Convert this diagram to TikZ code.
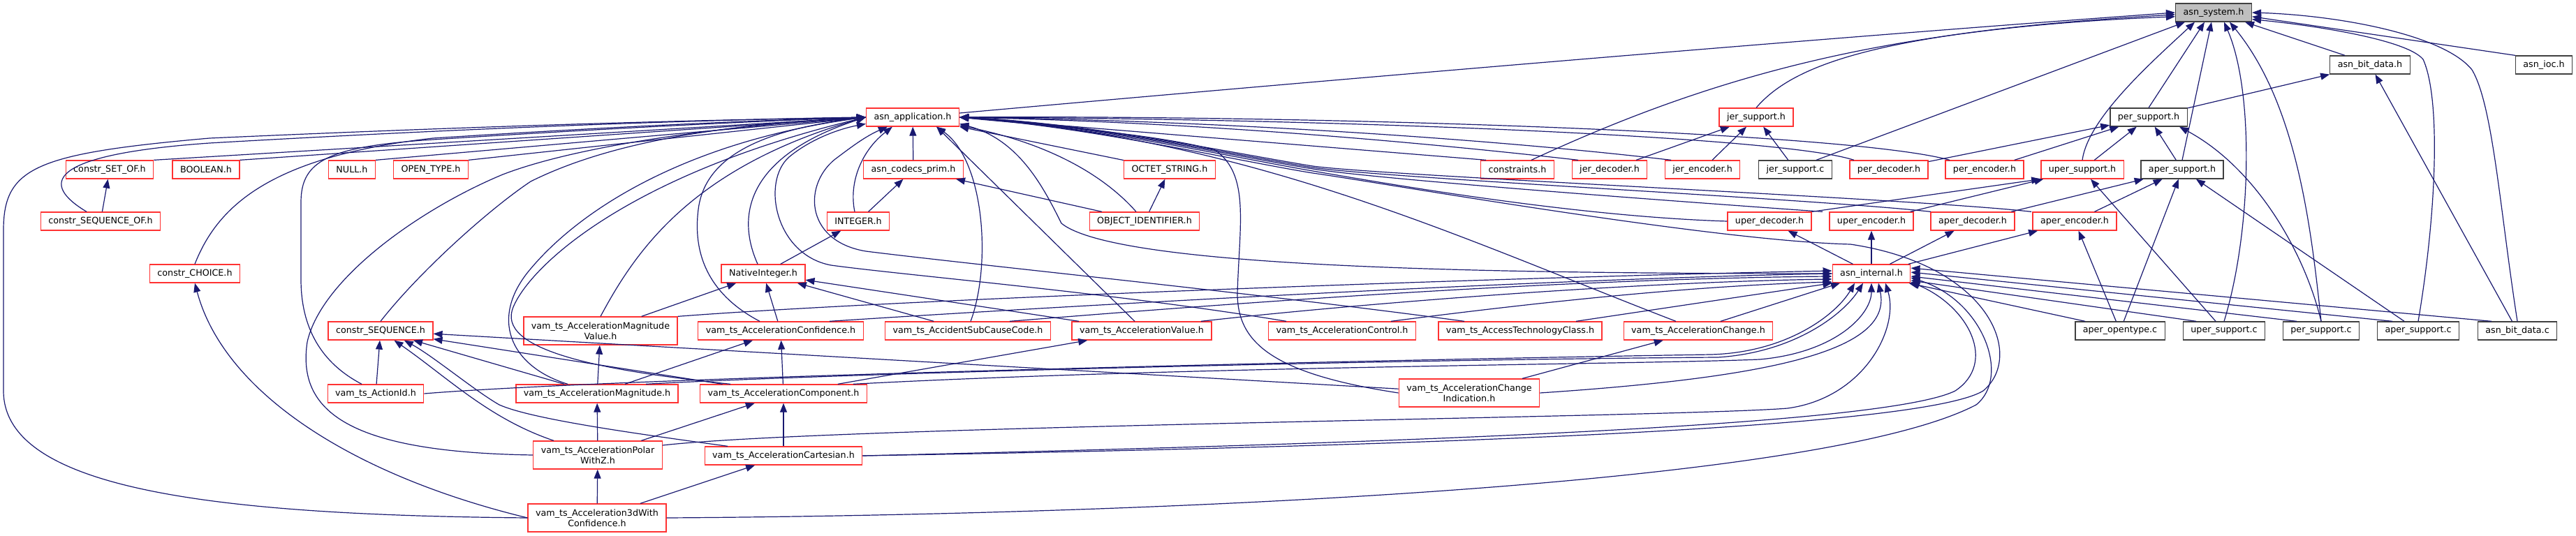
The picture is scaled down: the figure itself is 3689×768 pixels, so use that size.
\documentclass[tikz,border=0pt]{standalone}
\usepackage{fontspec}
\setmainfont{DejaVu Sans}
\usetikzlibrary{arrows.meta}
\definecolor{edgeblue}{RGB}{25,25,112}
\definecolor{boxred}{RGB}{255,50,50}
\definecolor{boxdark}{RGB}{64,64,64}
\definecolor{boxgray}{RGB}{191,191,191}
\tikzset{
  box-base/.style={
    rectangle,
    draw,
    fill=white,
    line width=1.3bp,
    inner xsep=11bp,
    inner ysep=0bp,
    minimum height=26bp,
    align=center,
    font=\fontsize{12.7bp}{15bp}\selectfont
  },
  box-red/.style={box-base, draw=boxred},
  box-black/.style={box-base, draw=boxdark},
  box-root/.style={box-base, draw=boxdark, fill=boxgray},
  box-tall/.style={box-red, minimum height=40bp},
  dep-line/.style={
    draw=edgeblue,
    line width=1.2bp,
    -{Triangle[length=13bp,width=10bp]}
  }
}

\begin{document}
\begin{tikzpicture}[x=1bp, y=-1bp]
  \useasboundingbox (0,0) rectangle (3689,768);
  \node[box-root] (sys) at (3170,18) {asn\_system.h};
  \node[box-black] (bitdh) at (3394,93) {asn\_bit\_data.h};
  \node[box-black] (ioc) at (3643,93) {asn\_ioc.h};
  \node[box-red] (app) at (1307,168) {asn\_application.h};
  \node[box-red] (jersh) at (2515,168) {jer\_support.h};
  \node[box-black] (persh) at (3077,168) {per\_support.h};
  \node[box-red] (setof) at (157,243) {constr\_SET\_OF.h};
  \node[box-red] (bool) at (295,243) {BOOLEAN.h};
  \node[box-red] (null) at (504,243) {NULL.h};
  \node[box-red] (opentype) at (617,243) {OPEN\_TYPE.h};
  \node[box-red] (prim) at (1308,243) {asn\_codecs\_prim.h};
  \node[box-red] (octet) at (1675,243) {OCTET\_STRING.h};
  \node[box-red] (cons) at (2173,243) {constraints.h};
  \node[box-red] (jerdec) at (2305,243) {jer\_decoder.h};
  \node[box-red] (jerenc) at (2438,243) {jer\_encoder.h};
  \node[box-black] (jersc) at (2571,243) {jer\_support.c};
  \node[box-red] (perdec) at (2705,243) {per\_decoder.h};
  \node[box-red] (perenc) at (2842,243) {per\_encoder.h};
  \node[box-red] (upersh) at (2982,243) {uper\_support.h};
  \node[box-black] (apersh) at (3125,243) {aper\_support.h};
  \node[box-red] (seqof) at (144,317) {constr\_SEQUENCE\_OF.h};
  \node[box-red] (integer) at (1229,317) {INTEGER.h};
  \node[box-red] (oid) at (1639,317) {OBJECT\_IDENTIFIER.h};
  \node[box-red] (uperdec) at (2534,317) {uper\_decoder.h};
  \node[box-red] (uperenc) at (2680,317) {uper\_encoder.h};
  \node[box-red] (aperdec) at (2825,317) {aper\_decoder.h};
  \node[box-red] (aperenc) at (2971,317) {aper\_encoder.h};
  \node[box-red] (choice) at (279,392) {constr\_CHOICE.h};
  \node[box-red] (native) at (1093,392) {NativeInteger.h};
  \node[box-red] (internal) at (2680,392) {asn\_internal.h};
  \node[box-red] (seq) at (545,474) {constr\_SEQUENCE.h};
  \node[box-tall] (magval) at (860,474) {vam\_ts\_AccelerationMagnitude\\Value.h};
  \node[box-red] (conf) at (1118,474) {vam\_ts\_AccelerationConfidence.h};
  \node[box-red] (subcause) at (1386,474) {vam\_ts\_AccidentSubCauseCode.h};
  \node[box-red] (accval) at (1635,474) {vam\_ts\_AccelerationValue.h};
  \node[box-red] (control) at (1922,474) {vam\_ts\_AccelerationControl.h};
  \node[box-red] (access) at (2177,474) {vam\_ts\_AccessTechnologyClass.h};
  \node[box-red] (change) at (2432,474) {vam\_ts\_AccelerationChange.h};
  \node[box-black] (opentypec) at (3036,474) {aper\_opentype.c};
  \node[box-black] (upersc) at (3185,474) {uper\_support.c};
  \node[box-black] (persc) at (3324,474) {per\_support.c};
  \node[box-black] (apersc) at (3463,474) {aper\_support.c};
  \node[box-black] (bitdc) at (3605,474) {asn\_bit\_data.c};
  \node[box-red] (actionid) at (538,564) {vam\_ts\_ActionId.h};
  \node[box-red] (mag) at (855,564) {vam\_ts\_AccelerationMagnitude.h};
  \node[box-red] (comp) at (1122,564) {vam\_ts\_AccelerationComponent.h};
  \node[box-tall] (changeind) at (2104,563) {vam\_ts\_AccelerationChange\\Indication.h};
  \node[box-tall] (polar) at (856,652) {vam\_ts\_AccelerationPolar\\WithZ.h};
  \node[box-red] (cart) at (1122,653) {vam\_ts\_AccelerationCartesian.h};
  \node[box-tall] (acc3d) at (855,742) {vam\_ts\_Acceleration3dWith\\Confidence.h};

  \foreach \a/\b in {persh/bitdh, bitdc/bitdh, perdec/persh, perenc/persh, upersh/persh,
      apersh/persh, jerdec/jersh, jerenc/jersh, jersc/jersh, uperenc/upersh, upersc/upersh,
      aperdec/apersh, aperenc/apersh, opentypec/apersh, apersc/apersh, opentypec/aperenc,
      internal/uperdec, internal/uperenc, internal/aperdec, internal/aperenc,
      integer/prim, oid/prim, oid/octet, native/integer, magval/native, conf/native,
      subcause/native, accval/native, seqof/setof, actionid/seq, mag/seq, comp/seq,
      changeind/seq, mag/magval, mag/conf, comp/conf, comp/accval, polar/mag, polar/comp,
      cart/comp, acc3d/polar, acc3d/cart, changeind/change, prim/app, octet/app}
    \draw[dep-line] (\a) -- (\b);
  \draw[dep-line] (uperdec.north east) -- (upersh.south west);

  \draw[dep-line] ([xshift=-36bp]bitdh.north) -- ([xshift=45bp]sys.south);
  \draw[dep-line] (ioc.north west) -- (sys.-6);
  \draw[dep-line] (persh.north) -- ([xshift=-13bp]sys.south);
  \draw[dep-line] (apersh.north) -- ([xshift=-3bp]sys.south);
  \draw[dep-line] ([xshift=30bp]jersc.north) -- ([xshift=-41bp]sys.south);
  \draw[dep-line] (upersh.north) .. controls (2990,170) and (3080,90) .. ([xshift=-27bp]sys.south);
  \draw[dep-line] (upersc.north) .. controls (3225,330) and (3228,130) .. ([xshift=15bp]sys.south);
  \draw[dep-line] (persc.north) .. controls (3310,330) and (3290,150) .. ([xshift=23bp]sys.south);
  \draw[dep-line] (apersc.north) .. controls (3490,300) and (3495,140) .. (3470,85)
    .. controls (3445,55) and (3300,35) .. (sys.-10);
  \draw[dep-line] (bitdc.north) .. controls (3580,300) and (3570,150) .. (3540,100)
    .. controls (3500,50) and (3350,22) .. (sys.0);
  \draw[dep-line] ([yshift=6bp]app.east) .. controls (1900,115) and (2600,55) .. (sys.180);
  \draw[dep-line] (jersh.north) .. controls (2570,90) and (2700,45) .. (sys.183);
  \draw[dep-line] ([xshift=20bp]cons.north) .. controls (2450,110) and (2700,40) .. (sys.186);
  \draw[dep-line] (persc.north) .. controls (3300,360) and (3230,240) .. ([xshift=44bp]persh.south);

  \draw[dep-line] (setof.north east) -- (app.west);
  \draw[dep-line] (bool.north east) -- (app.west);
  \draw[dep-line] (null.north east) -- (app.west);
  \draw[dep-line] (opentype.north east) -- (app.west);
  \draw[dep-line] ([xshift=-20bp]seqof.north) .. controls (60,265) and (60,222) .. (300,205)
    .. controls (700,182) and (1000,172) .. (app.west);
  \draw[dep-line] (acc3d.west) .. controls (300,738) and (5,700) .. (5,560) -- (5,330)
    .. controls (5,240) and (50,220) .. (300,198) .. controls (700,180) and (1000,172) .. (app.west);
  \draw[dep-line] (acc3d.west) .. controls (500,680) and (320,560) .. (choice.south);
  \draw[dep-line] (choice.north) .. controls (310,300) and (380,225) .. (620,198)
    .. controls (900,180) and (1100,172) .. (app.west);
  \draw[dep-line] ([xshift=-20bp]actionid.north) .. controls (460,520) and (431,470) .. (431,400)
    -- (431,290) .. controls (431,230) and (470,210) .. (620,200) .. controls (900,182) and (1100,173) .. (app.west);
  \draw[dep-line] (polar.west) .. controls (500,648) and (425,590) .. (440,490)
    .. controls (460,400) and (600,300) .. (720,250) .. controls (850,200) and (1100,176) .. (app.west);
  \draw[dep-line] (seq.north) .. controls (600,390) and (700,300) .. (760,260)
    .. controls (900,190) and (1100,176) .. (app.west);
  \draw[dep-line] ([xshift=-42bp]mag.north) .. controls (730,525) and (700,455) .. (760,385)
    .. controls (840,290) and (1000,200) .. (app.west);
  \draw[dep-line] ([xshift=-76bp]comp.north) .. controls (850,530) and (710,500) .. (735,440)
    .. controls (760,380) and (900,250) .. (app.west);
  \draw[dep-line] (magval.north) .. controls (910,360) and (990,240) .. (app.west);
  \draw[dep-line] ([xshift=-30bp]conf.north) .. controls (1030,430) and (990,380) .. (1000,300)
    .. controls (1010,220) and (1100,185) .. (app.west);
  \draw[dep-line] ([xshift=-8bp]native.north) .. controls (1050,300) and (1080,220) .. (app.west);
  \draw[dep-line] ([xshift=-80bp]control.north) .. controls (1600,420) and (1300,395) .. (1190,380)
    .. controls (1110,365) and (1090,260) .. (1130,225) .. controls (1160,200) and (1200,185) .. (app.188);
  \draw[dep-line] ([xshift=-80bp]access.north) .. controls (1800,420) and (1400,380) .. (1240,360)
    .. controls (1150,345) and (1150,260) .. (1200,225) .. controls (1220,210) and (1240,195) .. ([xshift=31bp]app.south west);
  \draw[dep-line] ([xshift=-5bp]integer.north) .. controls (1215,260) and (1235,215) .. ([xshift=38bp]app.south west);
  \draw[dep-line] ([xshift=4bp]subcause.north) .. controls (1420,380) and (1410,230) .. ([xshift=-33bp]app.south east);
  \draw[dep-line] ([xshift=-10bp]accval.north) -- ([xshift=-33bp]app.south east);
  \draw[dep-line] ([xshift=-12bp]oid.north) .. controls (1580,250) and (1500,205) .. (app.-10);
  \draw[dep-line] (internal.west) .. controls (2150,392) and (1600,385) .. (1520,320)
    .. controls (1495,270) and (1460,200) .. (app.-8);
  \draw[dep-line] (changeind.west) .. controls (1820,535) and (1772,490) .. (1772,420)
    .. controls (1775,320) and (1790,250) .. (1740,215) .. controls (1650,190) and (1450,176) .. (app.east);
  \draw[dep-line] ([xshift=-32bp]change.north) .. controls (2100,345) and (1800,200) .. (app.east);
  \draw[dep-line] ([xshift=-45bp]cons.north) -- (app.east);
  \draw[dep-line] ([xshift=-45bp]jerdec.north) .. controls (2000,200) and (1700,175) .. (app.east);
  \draw[dep-line] ([xshift=-45bp]jerenc.north) .. controls (2100,195) and (1700,172) .. (app.east);
  \draw[dep-line] ([xshift=-50bp]perdec.north) .. controls (2550,195) and (1900,170) .. (app.east);
  \draw[dep-line] ([xshift=-50bp]perenc.north) .. controls (2650,190) and (1900,165) .. (app.east);
  \draw[dep-line] (uperdec.west) .. controls (2250,310) and (1980,262) .. (1880,245)
    .. controls (1780,228) and (1560,180) .. (app.east);
  \draw[dep-line] ([xshift=-70bp]uperenc.north) .. controls (2450,292) and (1980,258) .. (1880,242)
    .. controls (1780,226) and (1560,178) .. (app.east);
  \draw[dep-line] ([xshift=-60bp]aperdec.north) .. controls (2600,285) and (1980,255) .. (1880,240)
    .. controls (1780,224) and (1560,177) .. (app.east);
  \draw[dep-line] ([xshift=-62bp]aperenc.north) .. controls (2750,285) and (1980,252) .. (1880,238)
    .. controls (1780,222) and (1560,176) .. (app.east);
  \draw[dep-line] (cart.east) .. controls (2000,640) and (2750,615) .. (2840,560)
    .. controls (2900,510) and (2850,380) .. (2650,350) .. controls (2450,345) and (1980,262) .. (1880,248)
    .. controls (1780,232) and (1560,182) .. (app.east);

  \draw[dep-line] ([xshift=-80bp]cart.north) .. controls (900,620) and (760,600) .. (715,580)
    .. controls (680,560) and (620,510) .. (seq.-22);
  \draw[dep-line] ([xshift=-63bp]polar.north) .. controls (700,600) and (640,540) .. (seq.-35);

  \draw[dep-line] (magval.north east) .. controls (1300,428) and (2200,396) .. (internal.176);
  \draw[dep-line] ([xshift=70bp]conf.north) .. controls (1500,440) and (2200,400) .. (internal.180);
  \draw[dep-line] ([xshift=60bp]subcause.north) .. controls (1700,440) and (2200,400) .. (internal.184);
  \draw[dep-line] ([xshift=85bp]accval.north) .. controls (1900,440) and (2300,405) .. (internal.188);
  \draw[dep-line] ([xshift=70bp]control.north) .. controls (2150,440) and (2400,410) .. (internal.192);
  \draw[dep-line] ([xshift=80bp]access.north) -- (internal.south west);
  \draw[dep-line] ([xshift=32bp]change.north) -- ([xshift=-45bp]internal.south);
  \draw[dep-line] (actionid.east) .. controls (900,540) and (2000,515) .. (2450,508)
    .. controls (2560,505) and (2630,450) .. ([xshift=-24bp]internal.south);
  \draw[dep-line] ([xshift=70bp]mag.north) .. controls (1200,535) and (2000,515) .. (2460,512)
    .. controls (2570,505) and (2640,450) .. ([xshift=-12bp]internal.south);
  \draw[dep-line] ([xshift=100bp]comp.north) .. controls (1700,525) and (2350,522) .. (2520,515)
    .. controls (2630,505) and (2680,450) .. (internal.south);
  \draw[dep-line] (changeind.east) .. controls (2550,540) and (2710,500) .. ([xshift=10bp]internal.south);
  \draw[dep-line] ([yshift=14bp]polar.east) .. controls (1200,610) and (2400,598) .. (2560,585)
    .. controls (2670,570) and (2720,470) .. ([xshift=20bp]internal.south);
  \draw[dep-line] (cart.east) .. controls (2000,635) and (2700,610) .. (2800,560)
    .. controls (2860,520) and (2820,440) .. (internal.-12);
  \draw[dep-line] (acc3d.east) .. controls (1600,738) and (2600,700) .. (2830,580)
    .. controls (2880,540) and (2840,430) .. (internal.-6);
  \draw[dep-line] ([xshift=-50bp]opentypec.north) -- ([xshift=-3bp]internal.south east);
  \draw[dep-line] ([xshift=-40bp]upersc.north) -- (internal.-10);
  \draw[dep-line] ([xshift=-35bp]persc.north) -- (internal.-4);
  \draw[dep-line] ([xshift=-37bp]apersc.north) -- (internal.2);
  \draw[dep-line] ([xshift=-37bp]bitdc.north) -- (internal.8);
\end{tikzpicture}
\end{document}
